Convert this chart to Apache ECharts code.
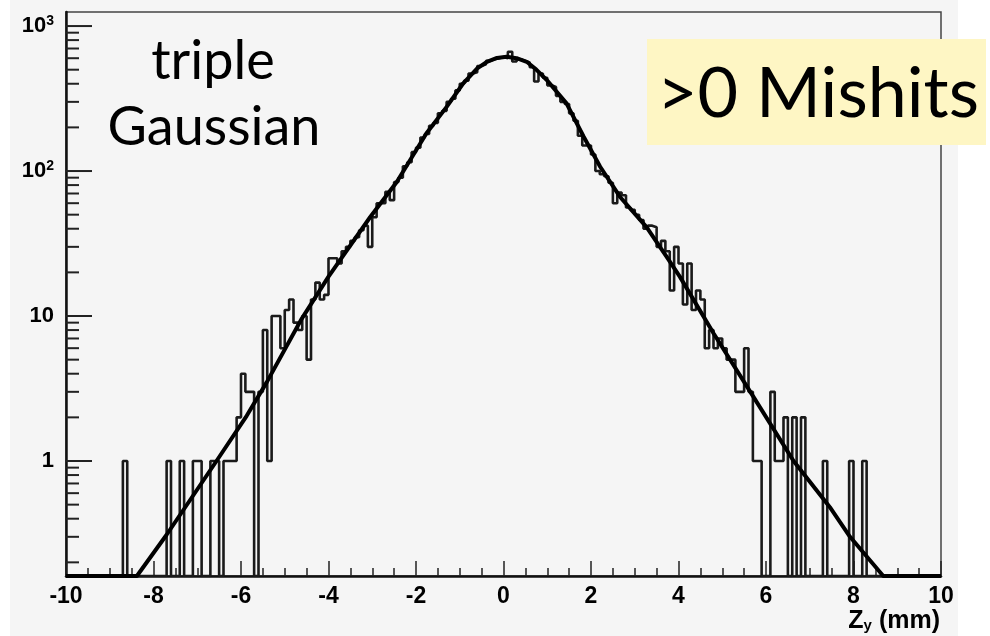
<!DOCTYPE html>
<html>
<head>
<meta charset="utf-8">
<script src="https://cdn.jsdelivr.net/npm/echarts@6/dist/echarts.min.js"></script>
<style>
  html, body { margin: 0; padding: 0; background: #fff; }
  #main { width: 990px; height: 636px; }
</style>
</head>
<body>
<div id="main"></div>
<script>
// histogram: 200 bins of 0.1 mm from -10 to 10
var binLow = -10;
var binWidth = 0.1;
var counts = [
  0,0,0,0,0,0,0,0,0,0, 0,0,0,1,0,0,0,0,0,0,
  0,0,0,1,0,0,1,0,0,1, 1,0,0,1,1,0,1,1,1,2,
  4,3,3,0,3,8,1,10,10,6, 11,13,9,8,10,5,13,17,13,14,
  25,25,23,28,30,33,35,39,42,30, 48,60,60,72,63,84,90,108,115,135,
  145,170,180,205,215,250,260,300,315,360, 400,420,470,480,530,545,575,590,600,612,
  600,665,570,590,575,560,520,415,470,440, 390,380,330,300,290,250,222,175,150,150,
  130,100,95,92,83,60,71,68,56,54, 50,46,40,42,41,30,33,28,15,30,
  23,12,23,11,15,13,6,8,6,7, 6,5,5,3,3,6,3,1,1,0,
  0,3,1,1,2,0,2,0,2,0, 0,0,0,1,0,0,0,0,0,1,
  0,0,1,0,0,0,0,0,0,0, 0,0,0,0,0,0,0,0,0,0
];

// triple gaussian fit
var fitX = [-10, -8.38, -7.70, -6.56, -5.87, -5.41, -4.61, -4.00, -3.05, -2.44, -1.76, -1.30, -0.92, -0.60, -0.38, -0.15,
            0.07, 0.30, 0.53, 0.75, 0.99, 1.44, 1.83, 2.21, 2.66, 3.27, 3.73, 4.03, 4.80, 5.71, 6.63, 7.46, 7.92, 8.68, 10];
var fitY = [0.161, 0.161, 0.31, 1.0, 2.05, 3.5, 9.6, 18.7, 48, 84, 182, 277, 403, 510, 567, 603,
            614, 600, 567, 501, 424, 293, 173, 107, 66.5, 41, 25.6, 18.7, 7.6, 2.78, 1.0, 0.48, 0.30, 0.161, 0.161];

var xTicks = [-10, -8, -6, -4, -2, 0, 2, 4, 6, 8, 10];
var yMajorTicks = [1, 10, 100, 1000];
var yMinorTicks = [0.2, 0.3, 0.4, 0.5, 0.6, 0.7, 0.8, 0.9,
                   2, 3, 4, 5, 6, 7, 8, 9,
                   20, 30, 40, 50, 60, 70, 80, 90,
                   200, 300, 400, 500, 600, 700, 800, 900];

var yMin = 0.161, yMax = 1250;

// outline of the histogram (ROOT style), empty bins sit on the axis
var histLine = [];
counts.forEach(function (c, i) {
  var lo = +(binLow + i * binWidth).toFixed(2);
  var hi = +(lo + binWidth).toFixed(2);
  var v = c > 0 ? c : yMin;
  histLine.push([lo, v]);
  histLine.push([hi, v]);
});

var fitLine = fitX.map(function (x, i) { return [x, fitY[i]]; });

function tickSeries(values, len) {
  return {
    type: 'custom',
    silent: true,
    z: 5,
    data: values.map(function (v) { return [-10, v]; }),
    renderItem: function (params, api) {
      var p = api.coord([api.value(0), api.value(1)]);
      return {
        type: 'line',
        shape: { x1: p[0], y1: p[1], x2: p[0] + len, y2: p[1] },
        style: { stroke: '#222', lineWidth: 2 }
      };
    }
  };
}

var chart = echarts.init(document.getElementById('main'));
chart.setOption({
  backgroundColor: '#ffffff',
  animation: false,
  grid: {
    left: 66, right: 49, top: 12, bottom: 60,
    show: true, borderColor: '#444', borderWidth: 1.5, backgroundColor: 'transparent'
  },
  xAxis: {
    type: 'value', min: -10, max: 10, interval: 2,
    axisLine: { onZero: false, lineStyle: { color: '#111', width: 2.5 } },
    axisTick: { inside: true, length: 15, lineStyle: { color: '#222', width: 1.5 } },
    minorTick: { show: true, splitNumber: 4, length: 8, lineStyle: { color: '#222', width: 1.5 } },
    splitLine: { show: false },
    axisLabel: {
      margin: 9, color: '#000', fontSize: 23, fontWeight: 'bold', fontFamily: 'Liberation Sans',
      formatter: function (v) { return xTicks.indexOf(v) >= 0 ? String(v) : ''; }
    }
  },
  yAxis: {
    type: 'log', min: yMin, max: yMax, logBase: 10,
    axisLine: { onZero: false, lineStyle: { color: '#111', width: 2.5 } },
    axisTick: { show: false },
    splitLine: { show: false },
    axisLabel: {
      margin: 12, color: '#000', fontSize: 22, fontWeight: 'bold', fontFamily: 'Liberation Sans',
      formatter: function (v) {
        var e = Math.round(Math.log10(v));
        if (Math.abs(Math.log10(v) - e) > 1e-6 || yMajorTicks.indexOf(Math.pow(10, e)) < 0) return '';
        if (e === 0) return '1';
        if (e === 1) return '10';
        return '10{sup|' + e + '}';
      },
      rich: {
        sup: { fontSize: 14, fontWeight: 'bold', fontFamily: 'Liberation Sans', color: '#000',
               verticalAlign: 'top', padding: [0, 0, 10, 0] }
      }
    }
  },
  series: [
    {
      name: 'data', type: 'line', data: histLine, showSymbol: false, z: 3,
      lineStyle: { color: '#1a1a1a', width: 2.6 }
    },
    {
      name: 'fit', type: 'line', data: fitLine, showSymbol: false, smooth: false, z: 4,
      lineStyle: { color: '#000', width: 4, join: 'round' }
    },
    tickSeries(yMajorTicks, 26),
    tickSeries(yMinorTicks, 13)
  ],
  graphic: [
    { type: 'rect', z: -10, silent: true, shape: { x: 10, y: 0, width: 948, height: 636 }, style: { fill: '#f5f5f5' } },
    { type: 'text', z: 10, style: { x: 213, y: 62, text: 'triple', font: '54px Lato', fill: '#000', align: 'center', verticalAlign: 'middle' } },
    { type: 'text', z: 10, style: { x: 214, y: 128, text: 'Gaussian', font: '54px Lato', fill: '#000', align: 'center', verticalAlign: 'middle' } },
    { type: 'rect', z: 20, shape: { x: 647, y: 39, width: 339, height: 106 }, style: { fill: '#fef6c4' } },
    { type: 'text', z: 21, style: { x: 657, y: 94, text: '>0 Mishits', font: '70px Lato', fill: '#000', align: 'left', verticalAlign: 'middle' } },
    { type: 'text', z: 10, style: {
        x: 940, y: 621, align: 'right', verticalAlign: 'middle',
        text: '{a|Z}{s|y}{a| (mm)}',
        rich: {
          a: { fontSize: 25, fontWeight: 'bold', fontFamily: 'Liberation Sans', fill: '#000' },
          s: { fontSize: 15, fontWeight: 'bold', fontFamily: 'Liberation Sans', fill: '#000', verticalAlign: 'bottom', padding: [9, 0, 0, 0] }
        }
    } }
  ]
});
</script>
</body>
</html>
